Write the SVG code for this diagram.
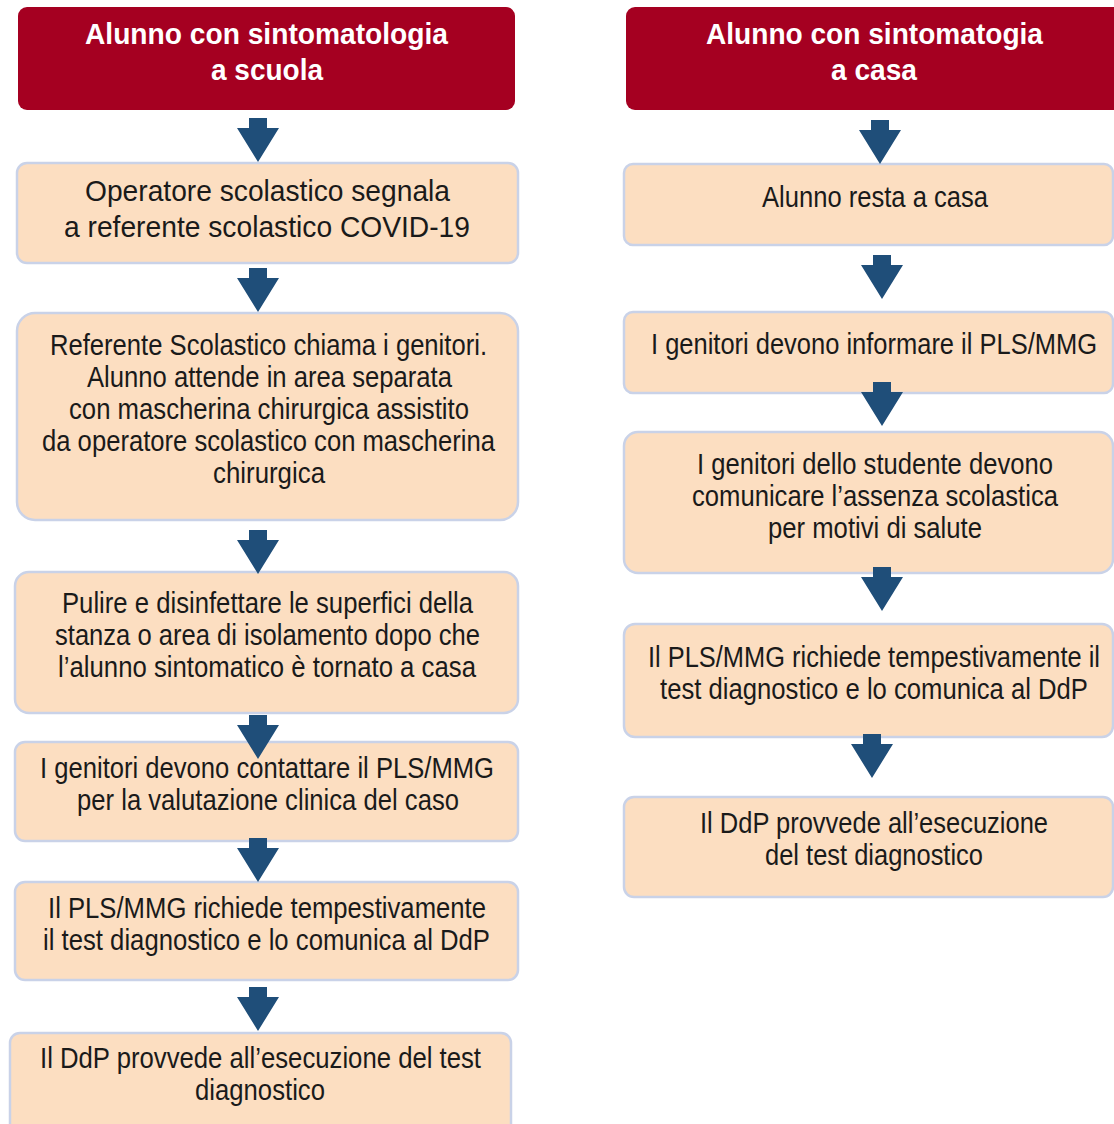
<svg xmlns="http://www.w3.org/2000/svg" xmlns:xlink="http://www.w3.org/1999/xlink" width="1114" height="1124" viewBox="0 0 1114 1124">
<style>
.hdr{fill:#a50021;}
.box{fill:#fcdec1;stroke:#c9d2e8;stroke-width:2.5;}
.ht{font-family:"Liberation Sans Narrow","Liberation Sans",Arial,sans-serif;font-size:29px;font-weight:bold;fill:#ffffff;text-anchor:middle;}
.bt{font-family:"Liberation Sans Narrow","Liberation Sans",Arial,sans-serif;font-size:29px;fill:#1a1a1a;text-anchor:middle;}
.arr{fill:#1f4e79;}
</style>
<defs>
<path id="arr" d="M-9,0 H9 V10 H21 L0,44 L-21,10 H-9 Z"/>
</defs>
<rect width="1114" height="1124" fill="#ffffff"/>

<g id="hdr-left">
<rect class="hdr" x="18" y="7" width="497" height="103" rx="9"/>
<text class="ht" x="266.5" y="44" textLength="363" lengthAdjust="spacingAndGlyphs">Alunno con sintomatologia</text>
<text class="ht" x="267" y="80" textLength="112" lengthAdjust="spacingAndGlyphs">a scuola</text>
</g>
<g id="hdr-right">
<rect class="hdr" x="626" y="7" width="500" height="103" rx="9"/>
<text class="ht" x="874.5" y="44" textLength="337" lengthAdjust="spacingAndGlyphs">Alunno con sintomatogia</text>
<text class="ht" x="874" y="80" textLength="86" lengthAdjust="spacingAndGlyphs">a casa</text>
</g>

<g id="L1">
<rect class="box" x="17" y="163" width="501" height="100" rx="10"/>
<text class="bt" x="267.5" y="201" textLength="365" lengthAdjust="spacingAndGlyphs">Operatore scolastico segnala</text>
<text class="bt" x="267" y="237" textLength="406" lengthAdjust="spacingAndGlyphs">a referente scolastico COVID-19</text>
</g>
<g id="L2">
<rect class="box" x="17" y="313" width="501" height="207" rx="18"/>
<text class="bt" x="268.5" y="355" textLength="437" lengthAdjust="spacingAndGlyphs">Referente Scolastico chiama i genitori.</text>
<text class="bt" x="269.5" y="387" textLength="365" lengthAdjust="spacingAndGlyphs">Alunno attende in area separata</text>
<text class="bt" x="269" y="419" textLength="400" lengthAdjust="spacingAndGlyphs">con mascherina chirurgica assistito</text>
<text class="bt" x="268.5" y="451" textLength="453" lengthAdjust="spacingAndGlyphs">da operatore scolastico con mascherina</text>
<text class="bt" x="269" y="483" textLength="112" lengthAdjust="spacingAndGlyphs">chirurgica</text>
</g>
<g id="L3">
<rect class="box" x="15" y="572" width="503" height="141" rx="14"/>
<text class="bt" x="267.5" y="613" textLength="411" lengthAdjust="spacingAndGlyphs">Pulire e disinfettare le superfici della</text>
<text class="bt" x="267.5" y="645" textLength="425" lengthAdjust="spacingAndGlyphs">stanza o area di isolamento dopo che</text>
<text class="bt" x="267" y="677" textLength="418" lengthAdjust="spacingAndGlyphs">l’alunno sintomatico è tornato a casa</text>
</g>
<g id="L4">
<rect class="box" x="15" y="742" width="503" height="99" rx="10"/>
<text class="bt" x="267" y="778" textLength="454" lengthAdjust="spacingAndGlyphs">I genitori devono contattare il PLS/MMG</text>
<text class="bt" x="268" y="810" textLength="382" lengthAdjust="spacingAndGlyphs">per la valutazione clinica del caso</text>
</g>
<g id="L5">
<rect class="box" x="15" y="882" width="503" height="98" rx="10"/>
<text class="bt" x="267" y="918" textLength="438" lengthAdjust="spacingAndGlyphs">Il PLS/MMG richiede tempestivamente</text>
<text class="bt" x="266.5" y="950" textLength="447" lengthAdjust="spacingAndGlyphs">il test diagnostico e lo comunica al DdP</text>
</g>
<g id="L6">
<rect class="box" x="10" y="1033" width="501" height="110" rx="10"/>
<text class="bt" x="260.5" y="1068" textLength="441" lengthAdjust="spacingAndGlyphs">Il DdP provvede all’esecuzione del test</text>
<text class="bt" x="260" y="1100" textLength="130" lengthAdjust="spacingAndGlyphs">diagnostico</text>
</g>

<g id="R1">
<rect class="box" x="624" y="164" width="489" height="81" rx="9"/>
<text class="bt" x="875" y="207" textLength="226" lengthAdjust="spacingAndGlyphs">Alunno resta a casa</text>
</g>
<g id="R2">
<rect class="box" x="624" y="312" width="489" height="81" rx="9"/>
<text class="bt" x="874" y="354" textLength="446" lengthAdjust="spacingAndGlyphs">I genitori devono informare il PLS/MMG</text>
</g>
<g id="R3">
<rect class="box" x="624" y="432" width="489" height="141" rx="14"/>
<text class="bt" x="875" y="474" textLength="356" lengthAdjust="spacingAndGlyphs">I genitori dello studente devono</text>
<text class="bt" x="875" y="506" textLength="366" lengthAdjust="spacingAndGlyphs">comunicare l’assenza scolastica</text>
<text class="bt" x="875" y="538" textLength="214" lengthAdjust="spacingAndGlyphs">per motivi di salute</text>
</g>
<g id="R4">
<rect class="box" x="624" y="624" width="489" height="113" rx="11"/>
<text class="bt" x="874" y="667" textLength="452" lengthAdjust="spacingAndGlyphs">Il PLS/MMG richiede tempestivamente il</text>
<text class="bt" x="874" y="699" textLength="428" lengthAdjust="spacingAndGlyphs">test diagnostico e lo comunica al DdP</text>
</g>
<g id="R5">
<rect class="box" x="624" y="797" width="489" height="100" rx="10"/>
<text class="bt" x="874" y="833" textLength="348" lengthAdjust="spacingAndGlyphs">Il DdP provvede all’esecuzione</text>
<text class="bt" x="874" y="865" textLength="218" lengthAdjust="spacingAndGlyphs">del test diagnostico</text>
</g>

<g id="connectors" class="arr">
<use xlink:href="#arr" x="258" y="118"/>
<use xlink:href="#arr" x="258" y="268"/>
<use xlink:href="#arr" x="258" y="530"/>
<use xlink:href="#arr" x="258" y="715"/>
<use xlink:href="#arr" x="258" y="838"/>
<use xlink:href="#arr" x="258" y="987"/>
<use xlink:href="#arr" x="880" y="120"/>
<use xlink:href="#arr" x="882" y="255"/>
<use xlink:href="#arr" x="882" y="382"/>
<use xlink:href="#arr" x="882" y="567"/>
<use xlink:href="#arr" x="872" y="734"/>
</g>
</svg>
